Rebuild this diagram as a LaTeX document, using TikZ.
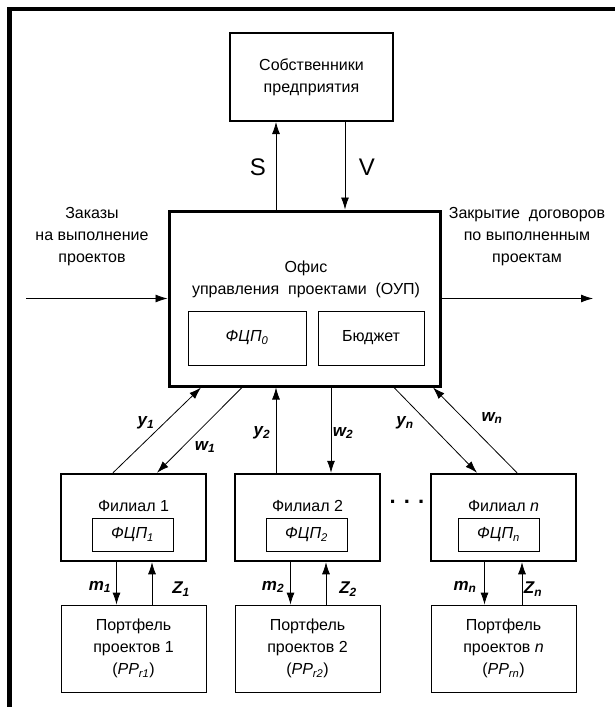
\documentclass[tikz,border=0pt]{standalone}
\usepackage{fontspec}
\setmainfont{Liberation Sans}
\usetikzlibrary{arrows.meta}

\begin{document}
\begin{tikzpicture}[x=1pt, y=-1pt,
    txt/.style={font=\fontsize{16}{22}\selectfont, align=center, inner sep=0pt},
    ownbox/.style={draw, line width=2pt, minimum width=163pt, minimum height=88pt, txt},
    mainbox/.style={draw, line width=3pt, minimum width=271pt, minimum height=175pt},
    fil/.style={draw, line width=2.5pt, minimum width=145pt, minimum height=87pt},
    inbox/.style={draw, line width=0.8pt, txt},
    port/.style={draw, line width=0.8pt, minimum width=145pt, minimum height=87pt, txt},
    arr/.style={-{Latex[length=12pt, width=8pt]}, line width=0.8pt},
    var/.style={font=\fontsize{17}{17}\selectfont\bfseries\itshape, inner sep=0pt},
    big/.style={font=\fontsize{24}{24}\selectfont, inner sep=0pt}
]
\useasboundingbox (0,0) rectangle (615,707);
\draw[line width=4.5pt] (9.5,707) -- (9.5,9) -- (615,9);

% owners and project office
\node[ownbox] (own) at (311.5,77) {Собственники\\предприятия};
\node[mainbox] (oup) at (304.5,298.5) {};
\node[txt] (ouptitle) at (306,279) {Офис\\управления\ \ проектами\ \ (ОУП)};
\node[inbox, minimum width=118pt, minimum height=54pt] (fcp0) at (247,338) {\textit{ФЦП}\textsubscript{\textit{0}}};
\node[inbox, minimum width=106pt, minimum height=54pt] (budget) at (371,338) {Бюджет};

\node[txt] (orders) at (92,237) {Заказы\\на выполнение\\проектов};
\node[txt] (closing) at (527,237) {Закрытие\ \ договоров\\по выполненным\\проектам};
\coordinate (inp) at (26,298.5);
\coordinate (outp) at (593,298.5);
\draw[arr] (inp) -- (oup.west);
\draw[arr] (oup.east) -- (outp);

\draw[arr] ([xshift=-28.5pt]oup.north) -- ([xshift=-35.5pt]own.south);
\draw[arr] ([xshift=33.5pt]own.south) -- ([xshift=40.5pt]oup.north);
\node[big] (s) at (258,167) {S};
\node[big] (v) at (367,167) {V};

% branches
\node[fil] (fil1) at (133.5,517.5) {};
\node[txt] (fil1t) at (133.5,506) {Филиал 1};
\node[inbox, minimum width=81pt, minimum height=33pt] (fcp1) at (132.5,534.5) {\textit{ФЦП}\textsubscript{\textit{1}}};
\node[fil] (fil2) at (307.5,517.5) {};
\node[txt] (fil2t) at (307.5,506) {Филиал 2};
\node[inbox, minimum width=81pt, minimum height=33pt] (fcp2) at (306.5,534.5) {\textit{ФЦП}\textsubscript{\textit{2}}};
\node[fil] (filn) at (503.5,517.5) {};
\node[txt] (filnt) at (503.5,506) {Филиал \textit{n}};
\node[inbox, minimum width=81pt, minimum height=33pt] (fcpn) at (498.5,534.5) {\textit{ФЦП}\textsubscript{\textit{n}}};
\node[font=\fontsize{22}{22}\selectfont\bfseries, inner sep=0pt] (dots) at (407,502) {. . .};

% portfolios
\node[port] (pp1) at (133.5,648.5) {Портфель\\проектов 1\\(\textit{PP}\textsubscript{\textit{r1}})};
\node[port] (pp2) at (307.5,648.5) {Портфель\\проектов 2\\(\textit{PP}\textsubscript{\textit{r2}})};
\node[port] (ppn) at (503.5,648.5) {Портфель\\проектов \textit{n}\\(\textit{PP}\textsubscript{\textit{rn}})};

% office <-> branches
\draw[arr] ([xshift=-20.5pt]fil1.north) -- ([xshift=-103.5pt]oup.south);
\draw[arr] ([xshift=-62.5pt]oup.south) -- ([xshift=23.5pt]fil1.north);
\draw[arr] ([xshift=-31.5pt]fil2.north) -- ([xshift=-28.5pt]oup.south);
\draw[arr] ([xshift=26.5pt]oup.south) -- ([xshift=23.5pt]fil2.north);
\draw[arr] ([xshift=89.5pt]oup.south) -- ([xshift=-26.5pt]filn.north);
\draw[arr] ([xshift=13.5pt]filn.north) -- ([xshift=128.5pt]oup.south);
\node[var] (y1) at (146,423) {y\textsubscript{1}};
\node[var] (w1) at (205,447) {w\textsubscript{1}};
\node[var] (y2) at (262,433) {y\textsubscript{2}};
\node[var] (w2) at (343,433) {w\textsubscript{2}};
\node[var] (yn) at (405,423) {y\textsubscript{n}};
\node[var] (wn) at (492,418) {w\textsubscript{n}};

% branches <-> portfolios
\draw[arr] ([xshift=-17pt]fil1.south) -- ([xshift=-17pt]pp1.north);
\draw[arr] ([xshift=18.5pt]pp1.north) -- ([xshift=18.5pt]fil1.south);
\draw[arr] ([xshift=-17pt]fil2.south) -- ([xshift=-17pt]pp2.north);
\draw[arr] ([xshift=18.5pt]pp2.north) -- ([xshift=18.5pt]fil2.south);
\draw[arr] ([xshift=-19pt]filn.south) -- ([xshift=-19pt]ppn.north);
\draw[arr] ([xshift=18.5pt]ppn.north) -- ([xshift=18.5pt]filn.south);
\node[var] (m1) at (100,587) {m\textsubscript{1}};
\node[var] (z1) at (181,589) {Z\textsubscript{1}};
\node[var] (m2) at (273,587) {m\textsubscript{2}};
\node[var] (z2) at (348,589) {Z\textsubscript{2}};
\node[var] (mn) at (465,587) {m\textsubscript{n}};
\node[var] (zn) at (533,589) {Z\textsubscript{n}};
\end{tikzpicture}
\end{document}
